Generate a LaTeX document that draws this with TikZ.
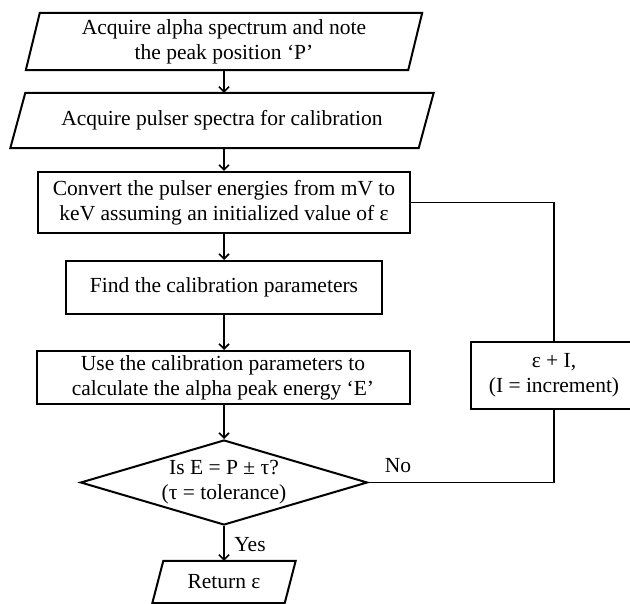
\documentclass[tikz,border=0pt]{standalone}
\usepackage{fontspec}
\setmainfont{Liberation Serif}
\usetikzlibrary{arrows.meta,shapes.geometric}
\begin{document}
\begin{tikzpicture}[x=1pt,y=-1pt,
  txt/.style={font=\fontsize{21.5}{25}\selectfont, align=center, inner sep=0pt},
  box/.style={txt, draw, line width=2pt, rectangle},
  pbox/.style={txt, rectangle},
  dec/.style={txt, draw, line width=2pt, diamond, shape aspect=3.4, minimum width=287pt, minimum height=85pt},
  outline/.style={line width=2pt, line join=miter},
  conn/.style={line width=1.6pt},
  arr/.style={conn, -{Straight Barb[length=5pt,width=10pt]}}
]
\useasboundingbox (0,0) rectangle (630,604);

\node[pbox, minimum width=382pt, minimum height=57pt] (p1) at (224,41.5) {Acquire alpha spectrum and note\\the peak position ‘P’};
\node[pbox, minimum width=408pt, minimum height=55pt] (p2) at (222,120.5) {Acquire pulser spectra for calibration};
\node[box, minimum width=372pt, minimum height=61pt] (b3) at (224,202.5) {Convert the pulser energies from mV to\\keV assuming an initialized value of ε};
\node[box, minimum width=316pt, minimum height=53pt] (b4) at (224,287.5) {Find the calibration parameters};
\node[box, minimum width=373pt, minimum height=53pt] (b5) at (223,377.5) {Use the calibration parameters to\\calculate the alpha peak energy ‘E’};
\node[dec] (d) at (224,482.5) {Is E = P ± τ?\\(τ = tolerance)};
\node[pbox, minimum width=132pt, minimum height=42pt] (ret) at (224,582) {Return ε};
\node[box, minimum width=166pt, minimum height=67pt] (inc) at (554,375.5) {ε + I,\\(I = increment)};

% parallelogram outlines
\draw[outline] ([xshift=7pt]p1.north west) -- ([xshift=7pt]p1.north east) -- ([xshift=-7pt]p1.south east) -- ([xshift=-7pt]p1.south west) -- cycle;
\draw[outline] ([xshift=7.5pt]p2.north west) -- ([xshift=7.5pt]p2.north east) -- ([xshift=-7.5pt]p2.south east) -- ([xshift=-7.5pt]p2.south west) -- cycle;
\draw[outline] ([xshift=5.5pt]ret.north west) -- ([xshift=5.5pt]ret.north east) -- ([xshift=-5.5pt]ret.south east) -- ([xshift=-5.5pt]ret.south west) -- cycle;

% main flow
\draw[arr] (p1.south) -- (p1.south |- p2.north);
\draw[arr] (p1.south |- p2.south) -- (p1.south |- b3.north);
\draw[arr] (b3.south) -- (b4.north);
\draw[arr] (b4.south) -- (b4.south |- b5.north);
\draw[arr] (b4.south |- b5.south) -- (d.north);
\draw[arr] (d.south) -- (ret.north);

% loop
\draw[conn] (b3.east) -- (b3.east -| inc.north) -- (inc.north);
\draw[conn] (inc.south) -- (inc.south |- d.east) -- (d.east);

\node[txt] (no) at (398,466) {No};
\node[txt] (yes) at (250,545) {Yes};
\end{tikzpicture}
\end{document}
